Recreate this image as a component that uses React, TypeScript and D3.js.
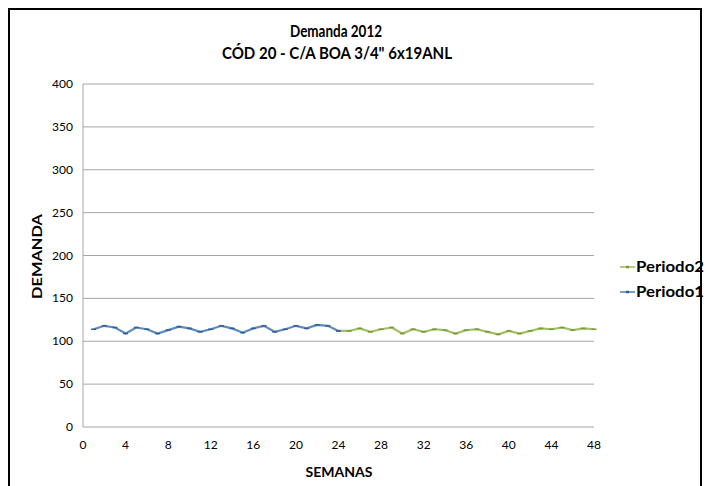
import React from "react";
import * as d3 from "d3";

const weeks1 = [1,2,3,4,5,6,7,8,9,10,11,12,13,14,15,16,17,18,19,20,21,22,23,24];
const periodo1 = [114,118,116,109,116,114,109,113,117,115,111,114,118,115,110,115,118,111,114,118,115,119,118,112];
const weeks2 = [24,25,26,27,28,29,30,31,32,33,34,35,36,37,38,39,40,41,42,43,44,45,46,47,48];
const periodo2 = [112,112,115,111,114,116,109,114,111,114,113,109,113,114,111,108,112,109,112,115,114,116,113,115,114];
const xTicks = [0,4,8,12,16,20,24,28,32,36,40,44,48];
const yTicks = [0,50,100,150,200,250,300,350,400];

const W = 707, H = 486;
const FONT = "Lato, 'Open Sans', sans-serif";

export default function App() {
  const x = d3.scaleLinear().domain([0, 48]).range([83, 594]);
  const y = d3.scaleLinear().domain([0, 400]).range([427, 84]);
  const line = d3.line<[number, number]>().x(d => x(d[0])).y(d => y(d[1]));
  const s1: [number, number][] = weeks1.map((w, i) => [w, periodo1[i]]);
  const s2: [number, number][] = weeks2.map((w, i) => [w, periodo2[i]]);
  const blue = "#4a7ebb";
  const green = "#98b954";
  return (
    <svg width={W} height={H} style={{ position: "absolute", left: 0, top: 0, background: "#fff" }} fontFamily={FONT}>
      <rect x={9} y={9} width={692} height={490} fill="#fff" stroke="#000" strokeWidth={2} />
      <text x={336} y={37} textAnchor="middle" fontSize={17} fontWeight="bold" textLength={92} lengthAdjust="spacingAndGlyphs">Demanda 2012</text>
      <text x={337} y={59} textAnchor="middle" fontSize={17} fontWeight="bold" textLength={230} lengthAdjust="spacingAndGlyphs">CÓD 20 - C/A BOA 3/4" 6x19ANL</text>
      {yTicks.map(t => (
        <g key={t}>
          {t > 0 && <line x1={x(0)} x2={x(48)} y1={y(t)} y2={y(t)} stroke="#a6a6a6" strokeWidth={1} />}
          <text x={73} y={y(t) + 4} textAnchor="end" fontSize={12}>{t}</text>
        </g>
      ))}
      <line x1={x(0)} x2={x(0)} y1={y(400)} y2={y(0)} stroke="#a6a6a6" strokeWidth={1} />
      <line x1={x(0)} x2={x(48)} y1={y(0)} y2={y(0)} stroke="#a6a6a6" strokeWidth={1} />
      {xTicks.map(t => (
        <text key={t} x={x(t)} y={449} textAnchor="middle" fontSize={12}>{t}</text>
      ))}
      <text x={339} y={477} textAnchor="middle" fontSize={14} fontWeight="bold" textLength={67} lengthAdjust="spacingAndGlyphs">SEMANAS</text>
      <text transform={`translate(42,${y(200) + 1}) rotate(-90)`} textAnchor="middle" fontSize={14} fontWeight="bold" textLength={85} lengthAdjust="spacingAndGlyphs">DEMANDA</text>
      <path d={line(s2) || ""} fill="none" stroke={green} strokeWidth={2.2} strokeOpacity={0.9} />
      {s2.map((d, i) => (
        <line key={"g" + i} x1={x(d[0]) - 2.5} x2={x(d[0]) + 2.5} y1={y(d[1])} y2={y(d[1])} stroke="#7a9a3a" strokeWidth={1.5} />
      ))}
      <path d={line(s1) || ""} fill="none" stroke={blue} strokeWidth={2.2} strokeOpacity={0.9} />
      {s1.map((d, i) => (
        <line key={"b" + i} x1={x(d[0]) - 2.5} x2={x(d[0]) + 2.5} y1={y(d[1])} y2={y(d[1])} stroke="#355f91" strokeWidth={1.5} />
      ))}
      <g>
        <line x1={620} x2={635} y1={267} y2={267} stroke={green} strokeWidth={1.5} />
        <line x1={626} x2={629} y1={267} y2={267} stroke="#7a9a3a" strokeWidth={2.5} />
        <text x={636} y={272} fontSize={15} fontWeight="bold" textLength={68} lengthAdjust="spacingAndGlyphs">Periodo2</text>
        <line x1={620} x2={635} y1={292} y2={292} stroke={blue} strokeWidth={1.5} />
        <line x1={626} x2={629} y1={292} y2={292} stroke="#355f91" strokeWidth={2.5} />
        <text x={636} y={297} fontSize={15} fontWeight="bold" textLength={68} lengthAdjust="spacingAndGlyphs">Periodo1</text>
      </g>
    </svg>
  );
}
